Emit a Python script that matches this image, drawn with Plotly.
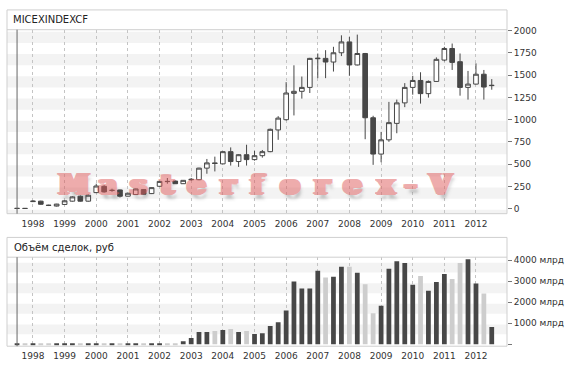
import plotly.graph_objects as go

# ---------------- data (quarterly) ----------------
quarters = [f"{y}-{m:02d}-01" for y in range(1997, 2013) for m in (1, 4, 7, 10)]
quarters = quarters[2:2 + 61]  # 1997Q3 .. 2012Q3

opens = [3, 4, 80, 85, 40, 30, 48, 85, 141, 85,
         181, 252, 205, 211, 141, 159, 215, 170, 252, 308,
         311, 281, 325, 326, 456, 515, 504, 641, 530, 607,
         552, 596, 641, 885, 1000, 1296, 1319, 1363, 1685, 1689,
         1648, 1752, 1874, 1615, 1744, 1022, 614, 774, 959, 1189,
         1363, 1441, 1293, 1430, 1670, 1800, 1652, 1363, 1400, 1511,
         1383]
highs = [6, 6, 95, 90, 45, 55, 95, 140, 150, 160,
         281, 265, 225, 215, 178, 226, 218, 240, 310, 345,
         318, 322, 345, 460, 559, 585, 645, 689, 612, 719,
         650, 660, 900, 1040, 1422, 1611, 1485, 1695, 1744, 1781,
         1819, 1948, 1930, 1956, 1750, 1044, 863, 1200, 1226, 1411,
         1493, 1533, 1441, 1700, 1819, 1856, 1744, 1548, 1633, 1559,
         1456]
lows = [2, 2, 75, 45, 30, 25, 45, 80, 80, 80,
        175, 181, 190, 126, 138, 155, 160, 165, 248, 281,
        278, 278, 315, 320, 393, 419, 500, 485, 470, 485,
        540, 574, 635, 774, 990, 1048, 1237, 1300, 1467, 1467,
        1541, 1715, 1493, 1610, 781, 493, 522, 752, 848, 1141,
        1281, 1181, 1248, 1425, 1656, 1559, 1270, 1226, 1395, 1226,
        1337]
closes = [4, 3, 85, 50, 37, 52, 89, 133, 85, 152,
          255, 189, 207, 140, 174, 222, 163, 237, 307, 305,
          281, 319, 330, 456, 515, 508, 641, 530, 607, 552,
          596, 641, 892, 1018, 1300, 1319, 1363, 1689, 1690, 1648,
          1752, 1874, 1615, 1744, 1022, 614, 774, 967, 1189, 1363,
          1441, 1293, 1430, 1678, 1800, 1644, 1363, 1400, 1511, 1367,
          1386]
volumes = [25, 30, 35, 30, 30, 30, 30, 30, 30, 30,
           30, 30, 30, 30, 30, 30, 30, 30, 30, 30,
           30, 141, 298, 580, 580, 627, 675, 722, 580, 627,
           486, 518, 863, 1051, 1600, 2980, 2651, 2651, 3498, 3169,
           3216, 3686, 3686, 3404, 2855, 1475, 1835, 3592, 3953, 3859,
           2824, 3247, 2541, 2965, 3341, 3106, 3859, 4047, 2886, 2416,
           816]

price_ticks = [0, 250, 500, 750, 1000, 1250, 1500, 1750, 2000]
vol_ticks = [0, 1000, 2000, 3000, 4000]
vol_labels = ["", "1000 млрд", "2000 млрд", "3000 млрд", "4000 млрд"]
title_top = "MICEXINDEXCF"
title_bottom = "Объём сделок, руб"
watermark = "Masterforex-V"

# ---------------- style ----------------
W, H = 568, 365
DARK = "#474747"
LIGHT = "#cdcdcd"
STRIPE = "#f3f3f3"
FRAME = "#cfcfcf"
FONT = "DejaVu Sans"
WM = "rgb(222,92,92)"

def px_x(x):
    return x / W

def px_y(y):
    return 1 - y / H

left, right = 7, 507
top_frame, top_sep, top_bot = 6, 26, 212
bot_frame, bot_sep, bot_bot = 236, 256, 346

fig = go.Figure()

fig.add_trace(go.Candlestick(
    x=quarters, open=opens, high=highs, low=lows, close=closes,
    xaxis="x", yaxis="y",
    increasing=dict(line=dict(color=DARK, width=1), fillcolor="white"),
    decreasing=dict(line=dict(color=DARK, width=1), fillcolor=DARK),
    whiskerwidth=0, showlegend=False, hoverinfo="skip",
))

vol_colors = [LIGHT if c < o else DARK for o, c in zip(opens, closes)]
fig.add_trace(go.Bar(
    x=quarters, y=volumes, xaxis="x2", yaxis="y2",
    marker=dict(color=vol_colors, line=dict(width=0)),
    width=55 * 24 * 3600 * 1000, showlegend=False, hoverinfo="skip",
))

xr = ["1997-03-07", "2012-12-24"]
xdom = [px_x(left), px_x(right)]
common_x = dict(
    type="date", range=xr, domain=xdom, tick0="1998-01-01", dtick="M12",
    tickformat="%Y", showgrid=True, gridcolor="#c4c4c4", griddash="dot",
    gridwidth=1, zeroline=False, showline=False, ticks="",
    ticklabelstandoff=3,
    tickfont=dict(family=FONT, size=9, color="#333"),
    fixedrange=True,
)
common_y = dict(
    side="right", showgrid=False, zeroline=False, showline=False,
    ticks="outside", ticklen=4, tickwidth=1, tickcolor="#777",
    tickfont=dict(family=FONT, size=9, color="#333"), fixedrange=True,
)

fig.update_layout(
    width=W, height=H, margin=dict(l=0, r=0, t=0, b=0),
    paper_bgcolor="white", plot_bgcolor="rgba(0,0,0,0)",
    boxgap=0.15,
    xaxis=dict(common_x, anchor="y", rangeslider=dict(visible=False)),
    xaxis2=dict(common_x, anchor="y2"),
    yaxis=dict(common_y, anchor="x", domain=[px_y(top_bot), px_y(top_sep)],
               range=[-55.6, 2011], tickvals=price_ticks),
    yaxis2=dict(common_y, anchor="x2", domain=[px_y(bot_bot), px_y(bot_sep)],
                range=[-94, 4141], tickvals=vol_ticks, ticktext=vol_labels),
    font=dict(family=FONT, size=9, color="#333"),
)

shapes = []
# stripes, top panel
for k in range(-1, 8):
    y0 = max(112.5 + 250 * k, -55.6)
    y1 = 237.5 + 250 * k
    shapes.append(dict(type="rect", xref="x domain", yref="y", x0=0, x1=1,
                       y0=y0, y1=y1, fillcolor=STRIPE, line=dict(width=0),
                       layer="below"))
# stripes, bottom panel
for s in [470, 1450, 2430, 3410]:
    shapes.append(dict(type="rect", xref="x2 domain", yref="y2", x0=0, x1=1,
                       y0=s, y1=s + 470, fillcolor=STRIPE, line=dict(width=0),
                       layer="below"))

# frames
for ftop, fsep, fbot in [(top_frame, top_sep, top_bot), (bot_frame, bot_sep, bot_bot)]:
    shapes.append(dict(type="rect", xref="paper", yref="paper",
                       x0=px_x(left), x1=px_x(right), y0=px_y(fbot), y1=px_y(ftop),
                       line=dict(color=FRAME, width=1), fillcolor="rgba(0,0,0,0)"))
    shapes.append(dict(type="line", xref="paper", yref="paper",
                       x0=px_x(left), x1=px_x(right), y0=px_y(fsep), y1=px_y(fsep),
                       line=dict(color=FRAME, width=1)))

# vertical marker line at the first quarter
for xa, ya in [("x", "y domain"), ("x2", "y2 domain")]:
    shapes.append(dict(type="line", xref=xa, yref=ya, x0=quarters[0], x1=quarters[0],
                       y0=0, y1=1, line=dict(color="#666", width=1)))

fig.update_layout(shapes=shapes)

# watermark (semi-transparent overlay), letter by letter to mimic the wide heavy face
fatten = ", ".join(f"{dx}px {dy}px 0 {WM}" for dx, dy in
                   [(1.5, 0), (-1.5, 0), (3, 0), (-3, 0), (0, 1), (1.5, 1), (-1.5, 1)])
shadow = fatten + ", 3px 5px 3px rgba(70,70,70,0.55)"
letter_centers = [74, 107.5, 138.5, 167.5, 196, 228.5, 257.5, 290, 322.5, 352, 386.5, 410, 440]
for ch, cx in zip(watermark, letter_centers):
    fig.add_annotation(
        text=f"<b>{ch}</b>", xref="paper", yref="paper", x=px_x(cx), y=px_y(183),
        xanchor="center", yanchor="middle", showarrow=False, opacity=0.5,
        font=dict(family="DejaVu Serif, Liberation Serif, serif", size=27,
                  weight="bold", color=WM, shadow=shadow),
    )

fig.add_annotation(text=title_top, xref="paper", yref="paper",
                   x=px_x(11), y=px_y(16), xanchor="left", yanchor="middle",
                   showarrow=False, font=dict(family=FONT, size=10, color="#222"))
fig.add_annotation(text=title_bottom, xref="paper", yref="paper",
                   x=px_x(12), y=px_y(246), xanchor="left", yanchor="middle",
                   showarrow=False, font=dict(family=FONT, size=10, color="#222"))

fig.write_html("out.html")
